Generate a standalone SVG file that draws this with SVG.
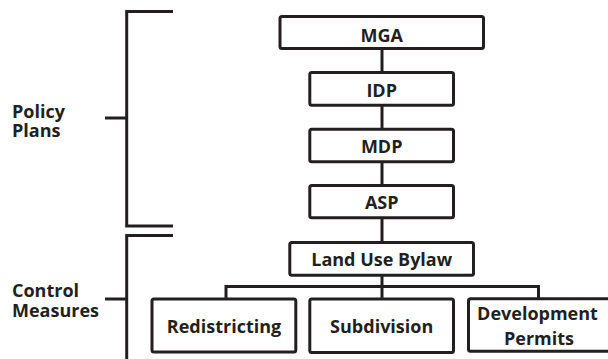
<svg xmlns="http://www.w3.org/2000/svg" width="608" height="359" viewBox="0 0 608 359">
<style>
.box{fill:#fff;stroke:#231f20;stroke-width:3}
.ln{fill:none;stroke:#231f20;stroke-width:3}
.t{font-family:"Open Sans","Liberation Sans",sans-serif;font-weight:bold;font-size:18px;fill:#231f20;text-anchor:middle}
.l{font-family:"Open Sans","Liberation Sans",sans-serif;font-weight:bold;font-size:18px;fill:#231f20}
</style>
<rect width="608" height="359" fill="#fff"/>
<g id="brackets">
<path class="ln" d="M173,11.5 H126.7 V226 H173 M105,118 H126.7"/>
<path class="ln" d="M173,235.5 H126.7 V362 M105,299 H126.7"/>
</g>
<g id="label-policy"><text class="l" x="12" y="118">Policy<tspan x="12" dy="19">Plans</tspan></text></g>
<g id="label-control"><text class="l" x="12" y="297">Control<tspan x="12" dy="20">Measures</tspan></text></g>
<g id="connectors">
<path class="ln" d="M382,50 V71 M382,106 V128 M382,163 V184 M382,219 V241 M382,276 V298 M226,286.5 H538.5 M226,285 V299 M538.5,285 V298"/>
</g>
<g id="mga"><rect class="box" x="280" y="16.5" width="203.5" height="32" rx="2"/><text class="t" x="381.7" y="41.5">MGA</text></g>
<g id="idp"><rect class="box" x="309.8" y="72.5" width="143.7" height="32.7" rx="2"/><text class="t" x="381.7" y="96.5">IDP</text></g>
<g id="mdp"><rect class="box" x="309.8" y="129.2" width="143.7" height="32.6" rx="2"/><text class="t" x="381.7" y="153">MDP</text></g>
<g id="asp"><rect class="box" x="309.8" y="185.5" width="143.7" height="32.3" rx="2"/><text class="t" x="381.7" y="209">ASP</text></g>
<g id="lub"><rect class="box" x="289.8" y="242.5" width="183.7" height="32.7" rx="2"/><text class="t" x="381.7" y="265.5">Land Use Bylaw</text></g>
<g id="redistricting"><rect class="box" x="152" y="299" width="143.8" height="53" rx="2"/><text class="t" x="224" y="333">Redistricting</text></g>
<g id="subdivision"><rect class="box" x="309.8" y="299" width="143.7" height="53.5" rx="2"/><text class="t" x="381.7" y="333">Subdivision</text></g>
<g id="devpermits"><rect class="box" x="468.5" y="298.8" width="150" height="52.5" rx="2"/><text class="t" x="537.5" y="320">Development<tspan x="539" dy="25">Permits</tspan></text></g>
</svg>
